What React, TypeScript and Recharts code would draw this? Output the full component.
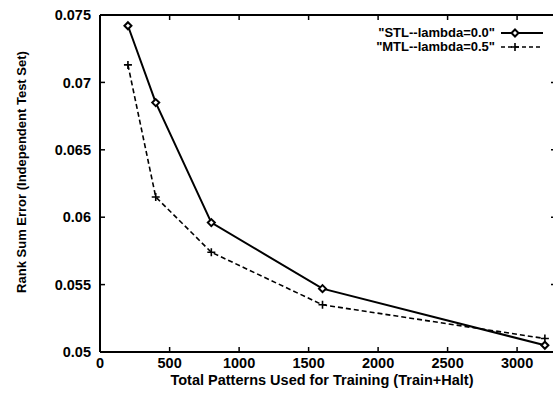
import { LineChart, Line, XAxis, YAxis, ReferenceLine } from "recharts";

const patterns = [200, 400, 800, 1600, 3200];
const stlError = [0.0742, 0.0685, 0.0596, 0.0547, 0.0505];
const mtlError = [0.0713, 0.0615, 0.0574, 0.0535, 0.051];
const xTicks = [0, 500, 1000, 1500, 2000, 2500, 3000];
const yTicks = [0.05, 0.055, 0.06, 0.065, 0.07, 0.075];
const seriesNames = ['"STL--lambda=0.0"', '"MTL--lambda=0.5"'];

const X_MIN = -1;
const X_MAX = 3280;
const Y_MIN = 0.05;
const Y_MAX = 0.075;

const data = patterns.map((p, i) => ({ patterns: p, stl: stlError[i], mtl: mtlError[i] }));

const FONT = '"Liberation Sans", Arial, Helvetica, sans-serif';
const INK = "#000";

const Diamond = ({ cx, cy }: any) => {
  if (cx == null || cy == null) return null;
  const r = 3.5;
  return (
    <path
      d={`M${cx},${cy - r}L${cx + r},${cy}L${cx},${cy + r}L${cx - r},${cy}Z`}
      fill="#fff"
      stroke={INK}
      strokeWidth={2}
    />
  );
};

const Plus = ({ cx, cy }: any) => {
  if (cx == null || cy == null) return null;
  const r = 4;
  return (
    <path
      d={`M${cx - r},${cy}H${cx + r}M${cx},${cy - r}V${cy + r}`}
      stroke={INK}
      strokeWidth={1.6}
      fill="none"
    />
  );
};

// short inward tick on the top border (mirror of the bottom axis)
const TopTick = (p: any) => {
  const y = Math.min(p.y1, p.y2);
  return <line x1={p.x1} x2={p.x1} y1={y} y2={y + 5} stroke={INK} strokeWidth={1.5} />;
};

// short inward tick on the right border (mirror of the left axis)
const RightTick = (p: any) => {
  const x = Math.max(p.x1, p.x2);
  return <line x1={x - 5} x2={x} y1={p.y1} y2={p.y1} stroke={INK} strokeWidth={1.5} />;
};

const XTickLabel = ({ x, y, payload }: any) => (
  <text x={x} y={y} dy="0.71em" textAnchor="middle" fontFamily={FONT} fontSize={14.5} fontWeight="bold" fill={INK}>
    {String(payload.value)}
  </text>
);

// legend box, drawn over the chart in the top right corner like gnuplot does
const LegendBox = () => (
  <div
    style={{
      position: "absolute",
      top: 26,
      left: 300,
      width: 243,
      fontFamily: FONT,
      fontSize: 13,
      fontWeight: "bold",
      color: INK,
      lineHeight: "14px",
    }}
  >
    {seriesNames.map((name, i) => (
      <div key={name} style={{ display: "flex", justifyContent: "flex-end", alignItems: "center", height: 14 }}>
        <span style={{ marginRight: 6 }}>{name}</span>
        <svg width={42} height={12}>
          <line
            x1={0}
            y1={6}
            x2={42}
            y2={6}
            stroke={INK}
            strokeWidth={i === 0 ? 2 : 1.5}
            strokeDasharray={i === 0 ? undefined : "4 3"}
          />
          {i === 0 ? <Diamond cx={14} cy={6} /> : <Plus cx={14} cy={6} />}
        </svg>
      </div>
    ))}
  </div>
);

const YTitle = () => (
  <text
    x={21}
    y={172}
    transform="rotate(-90 21 172)"
    textAnchor="middle"
    dominantBaseline="central"
    fontFamily={FONT}
    fontSize={13}
    fontWeight="bold"
    fill={INK}
  >
    Rank Sum Error (Independent Test Set)
  </text>
);

const XTitle = () => (
  <text
    x={322}
    y={380}
    textAnchor="middle"
    dominantBaseline="central"
    fontFamily={FONT}
    fontSize={14.5}
    fontWeight="bold"
    fill={INK}
  >
    Total Patterns Used for Training (Train+Halt)
  </text>
);

const tickStyle = { fontFamily: FONT, fontSize: 14.5, fontWeight: "bold", fill: INK };

export default function App() {
  return (
    <div style={{ position: "absolute", left: 0, top: 0, width: 553, height: 393, overflow: "hidden", background: "#fff" }}>
      <LineChart width={560} height={393} data={data} margin={{ top: 15, right: 4, bottom: 0, left: 0 }}>
        <XAxis
          dataKey="patterns"
          type="number"
          domain={[X_MIN, X_MAX]}
          ticks={xTicks}
          interval={0}
          allowDataOverflow
          height={41}
          tickSize={-5}
          tickMargin={11}
          tick={<XTickLabel />}
          axisLine={{ stroke: INK, strokeWidth: 2 }}
          tickLine={{ stroke: INK, strokeWidth: 1.5 }}
          label={<XTitle />}
        />
        <YAxis
          type="number"
          domain={[Y_MIN, Y_MAX]}
          ticks={yTicks}
          interval={0}
          allowDataOverflow
          width={100}
          tickSize={-5}
          tickMargin={14}
          tick={tickStyle}
          tickFormatter={(v: number) => String(+v.toFixed(3))}
          axisLine={{ stroke: INK, strokeWidth: 2 }}
          tickLine={{ stroke: INK, strokeWidth: 1.5 }}
          label={<YTitle />}
        />
        {/* top and right border with mirrored ticks */}
        <ReferenceLine y={Y_MAX} stroke={INK} strokeWidth={2} />
        <ReferenceLine x={X_MAX} stroke={INK} strokeWidth={2} />
        {xTicks.map((t) => (
          <ReferenceLine key={`tx${t}`} x={t} shape={<TopTick />} />
        ))}
        {yTicks.map((t) => (
          <ReferenceLine key={`ty${t}`} y={t} shape={<RightTick />} />
        ))}
        <Line
          dataKey="stl"
          name={seriesNames[0]}
          stroke={INK}
          strokeWidth={2}
          dot={<Diamond />}
          activeDot={false}
          isAnimationActive={false}
        />
        <Line
          dataKey="mtl"
          name={seriesNames[1]}
          stroke={INK}
          strokeWidth={1.6}
          strokeDasharray="5 3"
          dot={<Plus />}
          activeDot={false}
          isAnimationActive={false}
        />
      </LineChart>
      <LegendBox />
    </div>
  );
}
